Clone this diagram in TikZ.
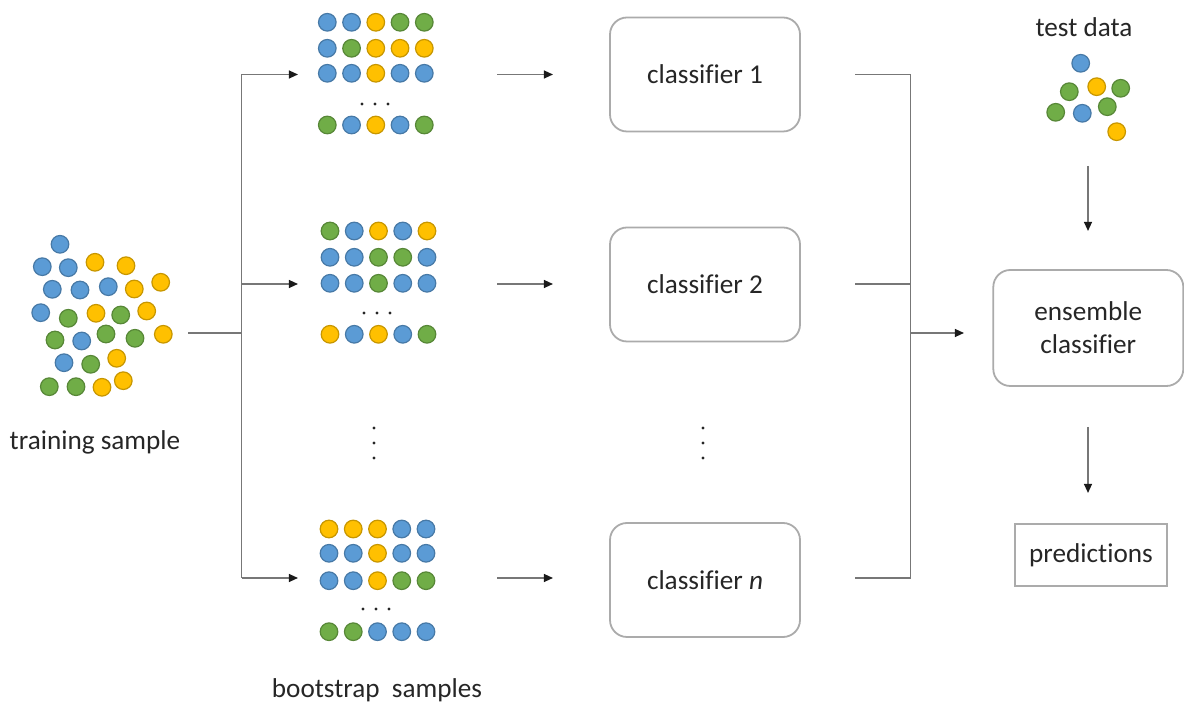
\documentclass[tikz,border=0pt]{standalone}
\usepackage{fontspec}
\setmainfont{Carlito}[Ligatures=NoCommon]
\usetikzlibrary{arrows.meta}
\definecolor{cB}{HTML}{5B9BD5}
\definecolor{cY}{HTML}{FFC000}
\definecolor{cG}{HTML}{70AD47}
\definecolor{lineg}{HTML}{777777}
\definecolor{boxg}{HTML}{ABABAB}
\definecolor{txt}{HTML}{262626}
\definecolor{tipc}{HTML}{1A1A1A}
\tikzset{
  ball/.style={circle, draw=#1!78!black, fill=#1, line width=0.6pt, minimum size=8.8pt, inner sep=0pt},
  tinydot/.style={circle, fill=black!85, minimum size=1.6pt, inner sep=0pt},
  roundbox/.style={draw=boxg, line width=0.9pt, rounded corners=8.5pt, minimum width=95pt, minimum height=57pt, inner sep=0pt, align=center, text=txt},
  sqbox/.style={draw=boxg, line width=0.9pt, minimum width=76pt, minimum height=31pt, inner sep=0pt, text=txt},
  lbl/.style={text=txt, inner sep=0pt},
  conn/.style={draw=lineg, line width=0.8pt},
  arr/.style={conn, -{Triangle[length=4.6pt, width=4pt, color=tipc, fill=tipc]}},
}
\newcommand\ballrow[4]{% name, x0, y, colors
  \foreach \c [count=\i from 0] in {#4} {\node[ball=\c] (#1\i) at (#2+\i*24.25, #3) {};}
}
\begin{document}
\begin{tikzpicture}[x=0.5pt, y=-0.5pt, font=\fontsize{13.6}{16.5}\selectfont]
\useasboundingbox (0,0) rectangle (1184,704);

% training sample cluster
\foreach \x/\y/\c [count=\k] in {
  60/244.3/cB,
  42.3/266.7/cB, 68.3/267.7/cB, 95/262.3/cY, 126/265.7/cY,
  52.3/289.3/cB, 80/290/cB, 108.3/286.7/cB, 134.3/289/cY, 160.7/282.3/cY,
  40.7/312.7/cB, 68.3/318.3/cG, 96/313.3/cY, 120.7/315/cG, 146.7/311/cY,
  55/340/cG, 81.7/341/cB, 106/334/cG, 135/338.3/cG, 163.3/334.3/cY,
  64/362.7/cB, 90.7/364.3/cG, 116.7/358.3/cY,
  49.3/386.7/cG, 76/386.7/cG, 102/387.3/cY, 123.3/380.7/cY}
  {\node[ball=\c] (ts\k) at (\x,\y) {};}
\node[lbl] (tslabel) at (95,442) {training sample};

% bootstrap sample 1
\ballrow{aa}{327.3}{22.3}{cB,cB,cY,cG,cG}
\ballrow{ab}{327.3}{48.3}{cB,cG,cY,cY,cY}
\ballrow{ac}{327.3}{73.3}{cB,cB,cY,cB,cB}
\ballrow{ad}{327.3}{125}{cG,cB,cY,cB,cG}
\foreach \x [count=\k] in {362,375,388} {\node[tinydot] (adots\k) at (\x,104) {};}

% bootstrap sample 2
\ballrow{ba}{330}{231}{cG,cB,cY,cB,cY}
\ballrow{bb}{330}{257.3}{cB,cB,cG,cG,cB}
\ballrow{bc}{330}{283.3}{cB,cB,cG,cB,cB}
\ballrow{bd}{330}{334.3}{cY,cB,cY,cB,cG}
\foreach \x [count=\k] in {364,377,390} {\node[tinydot] (bdots\k) at (\x,313) {};}

% bootstrap sample n
\ballrow{na}{329}{529}{cY,cY,cY,cB,cB}
\ballrow{nb}{329}{553.3}{cB,cB,cY,cB,cB}
\ballrow{nc}{329}{580.7}{cB,cB,cY,cG,cG}
\ballrow{nd}{329}{631.7}{cG,cG,cB,cB,cB}
\foreach \x [count=\k] in {363,376,389} {\node[tinydot] (ndots\k) at (\x,609) {};}

% vertical dots
\foreach \y [count=\k] in {428,443,458} {
  \node[tinydot] (vdl\k) at (374,\y) {};
  \node[tinydot] (vdr\k) at (703,\y) {};
}
\node[lbl] (bslabel) at (377,690) {bootstrap\ \ samples};

% classifiers
\node[roundbox] (c1) at (705,74.5) {classifier 1};
\node[roundbox] (c2) at (705,284.5) {classifier 2};
\node[roundbox] (cn) at (705,580) {classifier \textit{n}};

% ensemble and predictions
\node[roundbox, minimum height=58pt] (ens) at (1088.3,328) {ensemble\\classifier};
\node[sqbox] (pred) at (1091,555) {predictions};

% test data
\foreach \x/\y/\c [count=\k] in {
  1080.7/63.3/cB, 1069.3/91.7/cG, 1096.7/86.7/cY, 1120.7/88.3/cG,
  1055.7/112.3/cG, 1082.3/113.3/cB, 1107.3/106.7/cG, 1116.7/131.7/cY}
  {\node[ball=\c] (td\k) at (\x,\y) {};}
\node[lbl] (tdlabel) at (1084,27) {test data};

% connector coordinates
\coordinate (tsout) at (188,333);
\coordinate (split) at (241.5,333);
\coordinate (s1) at (241.5,74.5);
\coordinate (sn) at (241.5,578);
\coordinate (b1in) at (298,74.5);
\coordinate (b2in) at (298,284);
\coordinate (bnin) at (298,578);
\coordinate (b1out) at (497,74.5);
\coordinate (b2out) at (497,284);
\coordinate (bnout) at (497,578);
\coordinate (c1in) at (553,74.5);
\coordinate (c2in) at (553,284);
\coordinate (cnin) at (553,578);
\coordinate (c1out) at (855,74.5);
\coordinate (c2out) at (855,284);
\coordinate (cnout) at (855,578);
\coordinate (m1) at (910.5,74.5);
\coordinate (m2) at (910.5,284);
\coordinate (mn) at (910.5,578);
\coordinate (mid) at (910.5,333);
\coordinate (ensin) at (964,333);
\coordinate (tdout) at (1088,166);
\coordinate (ensintop) at (1088,231);
\coordinate (ensout) at (1088,427);
\coordinate (predin) at (1088,493);

% connectors
\path[conn] (tsout) -- (split);
\path[conn] (s1) -- (sn);
\path[arr] (s1) -- (b1in);
\path[arr] (split |- b2in) -- (b2in);
\path[arr] (sn) -- (bnin);
\path[arr] (b1out) -- (c1in);
\path[arr] (b2out) -- (c2in);
\path[arr] (bnout) -- (cnin);
\path[conn] (c1out) -- (m1) -- (mn) -- (cnout);
\path[conn] (c2out) -- (m2);
\path[arr] (mid) -- (ensin);
\path[arr] (tdout) -- (ensintop);
\path[arr] (ensout) -- (predin);
\end{tikzpicture}
\end{document}
